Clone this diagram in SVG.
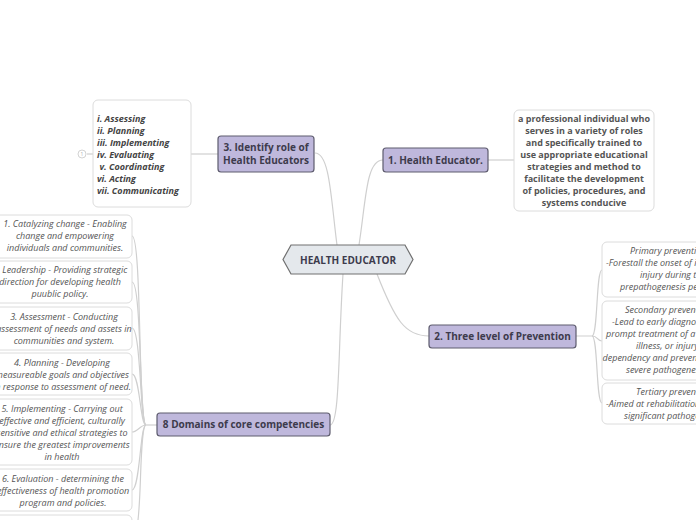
<svg xmlns="http://www.w3.org/2000/svg" width="696" height="520" viewBox="0 0 696 520">
<style>
.conn{fill:none;stroke:#cfcfcf;stroke-width:1.2}
.topic{fill:#bfb8dc;stroke:#5e5c6e;stroke-width:1.2}
.tt{font-family:"Open Sans","Noto Sans",sans-serif;font-size:10px;font-weight:bold;fill:#3d3b4c;text-anchor:middle}
.box{fill:#ffffff;stroke:#dcdcdc;stroke-width:1}
.desc{font-family:"Open Sans","Noto Sans",sans-serif;font-size:9px;font-weight:bold;fill:#555;text-anchor:middle}
.it{font-family:"Open Sans","Noto Sans",sans-serif;font-size:9px;font-style:italic;fill:#555}
.itb{font-family:"Open Sans","Noto Sans",sans-serif;font-size:9px;font-style:italic;font-weight:bold;fill:#444}
.m{text-anchor:middle}
</style>
<rect width="696" height="520" fill="#ffffff"/>
<g id="connectors">
<path class="conn" d="M315,153 C330,153 331,200 337,245"/>
<path class="conn" d="M359,245 C366,200 366,160 383,160"/>
<path class="conn" d="M377,274 C395,320 405,336 429,336"/>
<path class="conn" d="M343,274 C338,350 340,425 330,425"/>
<path class="conn" d="M488,160 L514,160"/>
<path class="conn" d="M191,154 L218,154"/>
<path class="conn" d="M87,154 L93,154"/>
<path class="conn" d="M576,336 L592,336 C598,336 596,270 602,270"/>
<path class="conn" d="M592,336 C598,336 597,341 602,341"/>
<path class="conn" d="M592,336 C598,336 596,403 602,403"/>
<path class="conn" d="M157,425 L146,425"/>
<path class="conn" d="M146,425 C138,425 142,236 132,236"/>
<path class="conn" d="M146,425 C139,425 142,282 132,282"/>
<path class="conn" d="M146,425 C140,425 141,328 132,328"/>
<path class="conn" d="M146,425 C140,425 140,374 132,374"/>
<path class="conn" d="M146,425 C140,425 138,432 132,432"/>
<path class="conn" d="M146,425 C140,425 140,490 132,490"/>
<path class="conn" d="M146,425 C139,425 142,520 136,530"/>
</g>
<g id="central">
<polygon points="291,245 405,245 413,259.5 405,274 291,274 283,259.5" fill="#e4e8ec" stroke="#707070" stroke-width="1.2"/>
<text class="tt" x="348" y="263.5">HEALTH EDUCATOR</text>
</g>
<g id="node1">
<rect class="topic" x="383" y="148" width="105" height="24" rx="3"/>
<text class="tt" x="435.5" y="163.5">1. Health Educator.</text>
</g>
<g id="desc1">
<rect class="box" x="514" y="110" width="140" height="101" rx="5"/>
<text class="desc" x="584" y="121.5">a professional individual who</text>
<text class="desc" x="584" y="133.5">serves in a variety of roles</text>
<text class="desc" x="584" y="145.5">and specifically trained to</text>
<text class="desc" x="584" y="157.5">use appropriate educational</text>
<text class="desc" x="584" y="169.5">strategies and method to</text>
<text class="desc" x="584" y="181.5">facilitate the development</text>
<text class="desc" x="584" y="193.5">of policies, procedures, and</text>
<text class="desc" x="584" y="205.5">systems conducive</text>
</g>
<g id="node3">
<rect class="topic" x="218" y="136" width="96" height="36" rx="3"/>
<text class="tt" x="266" y="151">3. Identify role of</text>
<text class="tt" x="266" y="163.5">Health Educators</text>
</g>
<g id="roles">
<rect class="box" x="93" y="100" width="98" height="107" rx="5"/>
<text class="itb" x="97" y="122">i. Assessing</text>
<text class="itb" x="97" y="134">ii. Planning</text>
<text class="itb" x="97" y="146">iii. Implementing</text>
<text class="itb" x="97" y="158">iv. Evaluating</text>
<text class="itb" x="99.5" y="170">v. Coordinating</text>
<text class="itb" x="97" y="182">vi. Acting</text>
<text class="itb" x="97" y="194">vii. Communicating</text>
<circle cx="82" cy="154" r="4" fill="#fff" stroke="#c8c8c8" stroke-width="0.8"/>
<text x="82" y="156" font-family="Open Sans, sans-serif" font-size="5" fill="#aaa" text-anchor="middle">1</text>
</g>
<g id="node2">
<rect class="topic" x="429" y="325" width="147" height="23" rx="3"/>
<text class="tt" x="502.5" y="340">2. Three level of Prevention</text>
</g>
<g id="primary">
<rect class="box" x="602" y="242" width="124" height="55" rx="5"/>
<text class="it" x="630" y="254">Primary prevention</text>
<text class="it" x="606" y="266">-Forestall the onset of illness or</text>
<text class="it" x="640" y="278">injury during the</text>
<text class="it" x="620" y="290">prepathogenesis period.</text>
</g>
<g id="secondary">
<rect class="box" x="602" y="301" width="124" height="79" rx="5"/>
<text class="it" x="625" y="313">Secondary prevention</text>
<text class="it" x="612" y="325">-Lead to early diagnosis and</text>
<text class="it" x="606" y="337">prompt treatment of a disease,</text>
<text class="it" x="636" y="349">illness, or injury to limit</text>
<text class="it" x="602.5" y="361">dependency and prevent</text>
<text class="it" x="626" y="373">severe pathogenesis.</text>
</g>
<g id="tertiary">
<rect class="box" x="602" y="383" width="124" height="41" rx="5"/>
<text class="it" x="636" y="395">Tertiary prevention</text>
<text class="it" x="606" y="407">-Aimed at rehabilitation following</text>
<text class="it" x="624" y="419">significant pathogenesis.</text>
</g>
<g id="node8">
<rect class="topic" x="157" y="413" width="173" height="23" rx="3"/>
<text class="tt" x="243.5" y="428">8 Domains of core competencies</text>
</g>
<g id="d1">
<rect class="box" x="-10" y="215" width="142" height="43" rx="5"/>
<text class="it m" x="65" y="227">1. Catalyzing change - Enabling</text>
<text class="it m" x="65" y="239">change and empowering</text>
<text class="it m" x="65" y="251">individuals and communities.</text>
</g>
<g id="d2">
<rect class="box" x="-10" y="261" width="142" height="42" rx="5"/>
<text class="it m" x="60" y="273">2. Leadership - Providing strategic</text>
<text class="it m" x="60" y="285">direction for developing health</text>
<text class="it m" x="60" y="297">puublic policy.</text>
</g>
<g id="d3">
<rect class="box" x="-10" y="307" width="142" height="43" rx="5"/>
<text class="it m" x="64" y="320">3. Assessment -  Conducting</text>
<text class="it m" x="64" y="332">assessment of needs and assets in</text>
<text class="it m" x="64" y="344">communities and system.</text>
</g>
<g id="d4">
<rect class="box" x="-10" y="353" width="142" height="42" rx="5"/>
<text class="it m" x="62" y="366">4. Planning - Developing</text>
<text class="it m" x="62" y="378">measureable goals and objectives</text>
<text class="it m" x="62" y="390">in response to assessment of need.</text>
</g>
<g id="d5">
<rect class="box" x="-10" y="399" width="142" height="66" rx="5"/>
<text class="it m" x="62" y="412">5. Implementing - Carrying out</text>
<text class="it m" x="62" y="424">effective and  efficient, culturally</text>
<text class="it m" x="62" y="436">sensitive and ethical strategies to</text>
<text class="it m" x="62" y="448">ensure the greatest improvements</text>
<text class="it m" x="62" y="460">in health</text>
</g>
<g id="d6">
<rect class="box" x="-10" y="469" width="142" height="42" rx="5"/>
<text class="it m" x="63" y="482">6. Evaluation - determining the</text>
<text class="it m" x="63" y="494">effectiveness of health promotion</text>
<text class="it m" x="63" y="506">program and policies.</text>
</g>
<g id="d7">
<rect class="box" x="-10" y="515" width="142" height="42" rx="5"/>
</g>
</svg>
